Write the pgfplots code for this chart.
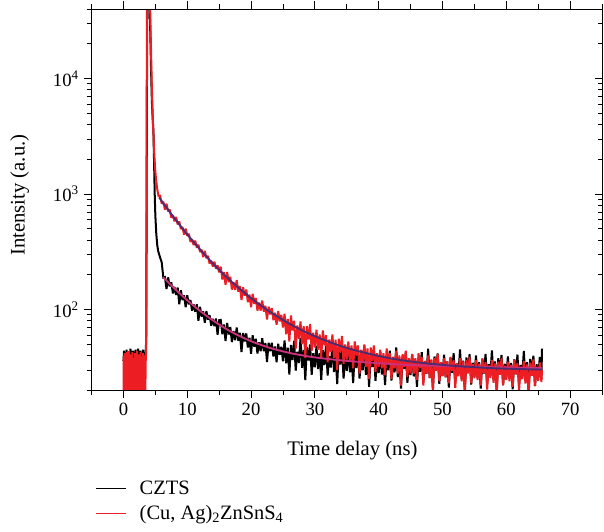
\documentclass[border=0pt]{standalone}
\usepackage{pgfplots}
\pgfplotsset{compat=1.18}
\usepackage{fontspec}
\setmainfont{Liberation Serif}
\definecolor{dred}{RGB}{236,30,36}
\definecolor{fitpurple}{RGB}{78,42,112}
\definecolor{fitmag}{RGB}{205,48,125}
\begin{document}
\begin{tikzpicture}
\begin{axis}[
  name=ax, at={(0,0)}, anchor=south west,
  scale only axis, width=382.5pt, height=285.75pt,
  xmin=-5, xmax=75, ymin=20, ymax=40000, ymode=log,
  xtick={0,10,...,70}, minor xtick={-5,5,...,75},
  ytick={100,1000,10000},
  yticklabels={10\textsuperscript{2},10\textsuperscript{3},10\textsuperscript{4}},
  minor ytick={20,30,40,50,60,70,80,90,200,300,400,500,600,700,800,900,2000,3000,4000,5000,6000,7000,8000,9000,20000,30000,40000},
  xtick pos=both, xticklabel pos=lower, ytick pos=left,
  tick align=outside,
  major tick length=6pt, minor tick length=3.75pt,
  every tick/.style={black, line width=0.6pt},
  axis line style={line width=0.7pt},
  /pgf/number format/assume math mode=true,
  tick label style={font=\fontsize{14}{16}\selectfont},
  label style={font=\fontsize{15.5}{18}\selectfont},
  xlabel={Time delay (ns)},
  ylabel={Intensity (a.u.)},
  xlabel style={at={(axis description cs:0.511,-0.1575)}, anchor=center},
  ylabel style={at={(axis description cs:-0.141,0.512)}, anchor=center},
  legend style={at={(axis description cs:0.0068,-0.229)}, anchor=north west, draw=none, fill=none,
    font=\fontsize{15.3}{18}\selectfont, inner xsep=0pt, inner ysep=0pt, row sep=3pt,
    /tikz/every odd column/.append style={column sep=8pt}},
  legend cell align=left,
  legend image code/.code={\draw[#1, line width=0.8pt] (0pt,0pt) -- (22.5pt,0pt);},
  clip=true,
]
% CZTS data
\addplot[black, line width=1.5pt, line join=miter, miter limit=2] coordinates {
(0,36)(0.1,44)(0.2,33)(0.3,41)(0.4,35)(0.5,45)(0.6,34)(0.7,40)(0.8,32)(0.9,43)(1.0,36)(1.1,46)(1.2,34)(1.3,41)(1.4,33)(1.5,44)(1.6,37)(1.7,42)(1.8,32)(1.9,45)(2.0,35)(2.1,40)(2.2,33)(2.3,46)(2.4,36)(2.5,41)(2.6,34)(2.7,44)(2.8,32)(2.9,42)(3.0,37)(3.1,45)(3.2,34)(3.3,40)(3.4,36)(3.5,43)
(3.58,60)(3.65,2000)(3.72,30000)(3.85,90000)(4.0,80000)(4.15,35000)(4.3,14000)(4.45,6500)(4.6,4300)(4.7,3500)(4.8,1900)(4.9,1000)(5.0,650)(5.15,450)(5.3,360)(5.45,320)(5.6,300)(5.75,282)
(6.0,256)(6.25,189)(6.5,191)(6.75,151)(7.0,190)(7.25,159)(7.5,172)(7.75,138)(8.0,157)(8.25,134)(8.5,155)(8.75,111)(9.0,147)(9.25,121)(9.5,133)(9.75,105)(10.0,133)(10.25,111)(10.5,121)(10.75,98)(11.0,111)(11.25,96)(11.5,111)(11.75,80)(12.0,106)(12.25,87)(12.5,96.5)(12.75,77)(13.0,97)(13.25,82)(13.5,89.5)(13.75,72.7)(14.0,83.2)(14.25,71.9)(14.5,83.6)(14.75,60.6)(15.0,80.9)
(15.25,81.4)(15.5,61.3)(15.75,74.2)(16.0,53.5)(16.25,76.7)(16.5,60.8)(16.75,70.7)(17.0,52.3)(17.25,65.3)(17.5,54.4)(17.75,69.9)(18.0,53.8)(18.25,63)(18.5,42.9)(18.75,62.8)(19.0,52.9)(19.25,62.2)(19.5,47)(19.75,57.1)(20.0,41.5)(20.25,60)(20.5,47.8)(20.75,55.9)(21.0,41.6)(21.25,52.1)(21.5,43.6)(21.75,56.4)(22.0,43.7)(22.25,51.4)(22.5,35.2)(22.75,51.7)(23.0,43.7)(23.25,51.6)(23.5,39.3)(23.75,48)(24.0,35)(24.25,50.7)(24.5,40.7)(24.75,47.7)(25.0,35.7)
(25.25,54)(25.5,34.3)(25.75,46.8)(26.0,27.4)(26.25,49.4)(26.5,36.6)(26.75,53.7)(27.0,29.6)(27.25,43.2)(27.5,34.5)(27.75,56.6)(28.0,31.4)(28.25,44.7)(28.5,24.6)(28.75,47.4)(29.0,36.2)(29.25,50)(29.5,27.3)(29.75,41.9)(30.0,31.7)
(30.25,48.1)(30.5,30.6)(30.75,42)(31.0,24.7)(31.25,44.6)(31.5,33.2)(31.75,48.8)(32.0,26.9)(32.25,39.5)(32.5,31.5)(32.75,51.8)(33.0,28.8)(33.25,41.2)(33.5,22.7)(33.75,43.8)(34.0,33.5)(34.25,46.5)(34.5,25.3)(34.75,39)(35.0,29.5)
(35.25,44.9)(35.5,28.6)(35.75,39.3)(36.0,23.1)(36.25,41.9)(36.5,31.2)(36.75,45.9)(37.0,25.3)(37.25,37.2)(37.5,29.8)(37.75,49)(38.0,27.2)(38.25,39)(38.5,21.5)(38.75,41.6)(39.0,31.8)(39.25,44.2)(39.5,24.2)(39.75,37.2)(40.0,28.2)
(40.25,42.9)(40.5,27.4)(40.75,37.6)(41.0,22.2)(41.25,40.1)(41.5,29.9)(41.75,44.1)(42.0,24.3)(42.25,35.7)(42.5,28.6)(42.75,47)(43.0,26.1)(43.25,37.5)(43.5,20.7)(43.75,40.1)(44.0,30.6)(44.25,42.5)(44.5,23.2)(44.75,35.7)(45.0,27.1)
(45.25,41.4)(45.5,26.4)(45.75,36.3)(46.0,21.5)(46.25,38.9)(46.5,29)(46.75,42.8)(47.0,23.7)(47.25,34.9)(47.5,27.9)(47.75,45.9)(48.0,25.5)(48.25,36.6)(48.5,20.3)(48.75,39.2)(49.0,30)(49.25,41.7)(49.5,22.8)(49.75,35.1)(50.0,26.7)
(50.25,40.6)(50.5,25.9)(50.75,35.6)(51.0,21.1)(51.25,38.2)(51.5,28.4)(51.75,42)(52.0,23.3)(52.25,34.2)(52.5,27.4)(52.75,45.1)(53.0,25.1)(53.25,36.1)(53.5,19.9)(53.75,38.5)(54.0,29.5)(54.25,41.1)(54.5,22.4)(54.75,34.6)(55.0,26.2)
(55.25,40)(55.5,25.5)(55.75,35.1)(56.0,20.7)(56.25,37.6)(56.5,28)(56.75,41.3)(57.0,22.9)(57.25,33.7)(57.5,26.9)(57.75,44.4)(58.0,24.7)(58.25,35.5)(58.5,19.6)(58.75,37.9)(59.0,29.1)(59.25,40.4)(59.5,22.1)(59.75,34)(60.0,25.8)
(60.25,39.4)(60.5,25.2)(60.75,34.5)(61.0,20.4)(61.25,37.1)(61.5,27.6)(61.75,40.8)(62.0,22.6)(62.25,33.2)(62.5,26.6)(62.75,43.8)(63.0,24.4)(63.25,35.1)(63.5,19.4)(63.75,37.4)(64.0,28.7)(64.25,39.9)(64.5,21.8)(64.75,33.6)(65.0,25.5)(65.25,38.9)(65.5,24.9)(65.6,46)
};
\addlegendentry{CZTS}
% (Cu,Ag)2ZnSnS4 data
\addplot[dred, line width=1.5pt, line join=miter, miter limit=2] coordinates {
(0,15)(0.05,40)(0.1,18)(0.2,42)(0.3,16)(0.35,38)(0.45,14)(0.55,43)(0.6,20)(0.7,39)(0.8,15)(0.9,44)(0.95,17)(1.05,36)(1.15,14)(1.25,41)(1.3,19)(1.4,43)(1.5,15)(1.6,38)(1.7,16)(1.8,42)(1.85,14)(1.95,40)(2.05,18)(2.15,44)(2.25,15)(2.35,37)(2.4,16)(2.5,41)(2.6,14)(2.7,43)(2.8,19)(2.9,39)(3.0,15)(3.1,42)(3.2,16)(3.3,40)(3.4,15)(3.5,38)(3.55,42)
(3.6,300)(3.65,8000)(3.7,60000)(3.85,150000)(4.0,120000)(4.15,50000)(4.3,20000)(4.45,8500)(4.6,4500)(4.8,2400)(4.95,1700)(5.1,1350)(5.3,1100)(5.5,960)
(5.75,965)(6.0,826)(6.25,858)(6.5,733)(6.75,825)(7.0,709)(7.25,735)(7.5,624)(7.75,657)(8.0,580)(8.25,634)(8.5,546)(8.75,579)(9.0,498)(9.25,519)(9.5,445)(9.75,503)(10.0,435)(10.25,453)(10.5,386)(10.75,407)(11.0,361)(11.25,396)(11.5,343)(11.75,365)(12.0,315)(12.25,330)(12.5,284)(12.75,322)(13.0,279)(13.25,292)(13.5,250)(13.75,265)(14.0,236)(14.25,260)(14.5,226)(14.75,242)(15.0,210)
(15.25,235)(15.5,182)(15.75,211)(16.0,164)(16.25,212)(16.5,173)(16.75,192)(17.0,149)(17.25,173)(17.5,148)(17.75,180)(18.0,143)(18.25,160)(18.5,121)(18.75,156)(19.0,132)(19.25,149)(19.5,116)(19.75,135)(20.0,105)(20.25,137)(20.5,112)(20.75,126)(21.0,98)(21.25,115)(21.5,98)(21.75,120)(22.0,96)(22.25,108)(22.5,82)(22.75,106)(23.0,91)(23.25,103)(23.5,81)(23.75,94)(24.0,74)(24.25,97)(24.5,79)(24.75,90)(25.0,70)
(25.25,92)(25.5,61)(25.75,83)(26.0,53)(26.25,89)(26.5,66)(26.75,80)(27.0,46)(27.25,73)(27.5,56)(27.75,79)(28.0,50)(28.25,72)(28.5,38)(28.75,72)(29.0,55)(29.25,75)(29.5,44)(29.75,63)(30.0,47)
(30.25,67)(30.5,45)(30.75,61)(31.0,39)(31.25,66)(31.5,49)(31.75,60)(32.0,35)(32.25,55)(32.5,43)(32.75,61)(33.0,38)(33.25,55)(33.5,30)(33.75,56)(34.0,43)(34.25,59)(34.5,34)(34.75,50)(35.0,37)
(35.25,53)(35.5,36)(35.75,49)(36.0,31)(36.25,53)(36.5,40)(36.75,49)(37.0,28)(37.25,45)(37.5,35)(37.75,50)(38.0,32)(38.25,46)(38.5,25)(38.75,47)(39.0,36)(39.25,49)(39.5,29)(39.75,42)(40.0,32)
(40.25,45)(40.5,31)(40.75,42)(41.0,27)(41.25,46)(41.5,34)(41.75,42)(42.0,25)(42.25,39)(42.5,31)(42.75,44)(43.0,28)(43.25,40)(43.5,22)(43.75,41)(44.0,32)(44.25,44)(44.5,26)(44.75,38)(45.0,28)
(45.25,41)(45.5,28)(45.75,38)(46.0,24.5)(46.25,42)(46.5,31)(46.75,39)(47.0,22)(47.25,36)(47.5,28)(47.75,40)(48.0,25.5)(48.25,37)(48.5,20)(48.75,38)(49.0,29.5)(49.25,41)(49.5,24)(49.75,35)(50.0,26.5)
(50.25,38)(50.5,26)(50.75,35.5)(51.0,23)(51.25,39)(51.5,29.5)(51.75,36.5)(52.0,21)(52.25,34)(52.5,26.5)(52.75,38)(53.0,24)(53.25,35.5)(53.5,19)(53.75,36.5)(54.0,28)(54.25,39)(54.5,23)(54.75,33.7)(55.0,25.4)
(55.25,36.5)(55.5,24.6)(55.75,34)(56.0,22)(56.25,37.7)(56.5,28.3)(56.75,35)(57.0,20.3)(57.25,32.8)(57.5,25.6)(57.75,36.7)(58.0,23.3)(58.25,34.2)(58.5,18.6)(58.75,35.3)(59.0,27.3)(59.25,37.7)(59.5,22.2)(59.75,32.6)(60.0,24.6)
(60.25,35.4)(60.5,24)(60.75,33.2)(61.0,21.5)(61.25,36.8)(61.5,27.5)(61.75,34.3)(62.0,19.9)(62.25,32.1)(62.5,25)(62.75,36)(63.0,22.9)(63.25,33.5)(63.5,18.2)(63.75,34.7)(64.0,26.8)(64.25,37.1)(64.5,21.8)(64.75,32.1)(65.0,24.2)(65.25,34.8)(65.5,23.6)(65.6,30)
};
\addlegendentry{(Cu, Ag)\textsubscript{2}ZnSnS\textsubscript{4}}
% fit CZTS
\addplot[fitmag, line width=1.4pt, smooth, forget plot] coordinates {
(6.2,191)(6.5,184)(7,172.5)(7.5,162)(8,152.3)(8.5,143.3)(9,135.1)(9.5,127.5)(10,120.5)(10.5,114)(11,108)(11.5,102.5)(12,97.5)(12.5,92.8)(13,88.5)(13.5,84.5)(14,80.8)(14.5,77.4)(15,74.2)(16,68.6)(17,63.8)(18,59.8)(19,56.3)(20,53.2)(21,50.7)(22,48.5)(23,46.5)(24,44.9)(25,43.5)(26,42.2)(27,41.1)(28,40.2)(29,39.3)(30,38.6)(32,37.4)(34,36.4)(36,35.6)(38,34.9)(40,34.4)(42,33.8)(44,33.3)(46,33)(48,32.75)(50,32.5)(54,32.1)(58,31.7)(62,31.35)(65.6,31.1)
};
% fit (Cu,Ag)2ZnSnS4
\addplot[fitpurple, line width=1.4pt, smooth, forget plot] coordinates {
(5.6,934)(6,869)(6.5,797)(7,731)(7.5,671)(8,617)(8.5,569)(9,524)(9.5,484)(10,448)(10.5,415)(11,384)(11.5,357)(12,332)(12.5,309)(13,288)(13.5,269)(14,251)(14.5,235)(15,221)(15.5,207)(16,195)(16.5,184)(17,173)(17.5,164)(18,155)(18.5,147)(19,139)(19.5,132)(20,125.5)(21,114)(22,104)(23,95.4)(24,88)(25,81.3)(26,75.5)(27,70.6)(28,66.1)(29,62.3)(30,58.8)(32,53.1)(34,48.5)(36,44.9)(38,42.1)(40,39.7)(42,37.7)(44,36.2)(46,35)(48,34)(50,33.2)(52,32.5)(54,32)(56,31.5)(58,31.1)(60,30.8)(62,30.6)(64,30.4)(65.6,30.3)
};
\end{axis}
\begin{axis}[
  at={(0,0)}, anchor=south west,
  scale only axis, width=382.5pt, height=285.75pt,
  xmin=-5, xmax=75, ymin=20, ymax=40000, ymode=log,
  xtick=\empty, ytick={100,1000,10000}, yticklabels={},
  minor ytick={20,30,40,50,60,70,80,90,200,300,400,500,600,700,800,900,2000,3000,4000,5000,6000,7000,8000,9000,20000,30000,40000},
  ytick pos=right, tick align=inside,
  major tick length=5pt, minor tick length=3pt,
  every tick/.style={black, line width=0.6pt},
  axis line style={line width=0.7pt},
]
\end{axis}
\pgfresetboundingbox
\path[use as bounding box] (-68.6pt,-105.75pt) rectangle (384pt,292.5pt);
\end{tikzpicture}
\end{document}
